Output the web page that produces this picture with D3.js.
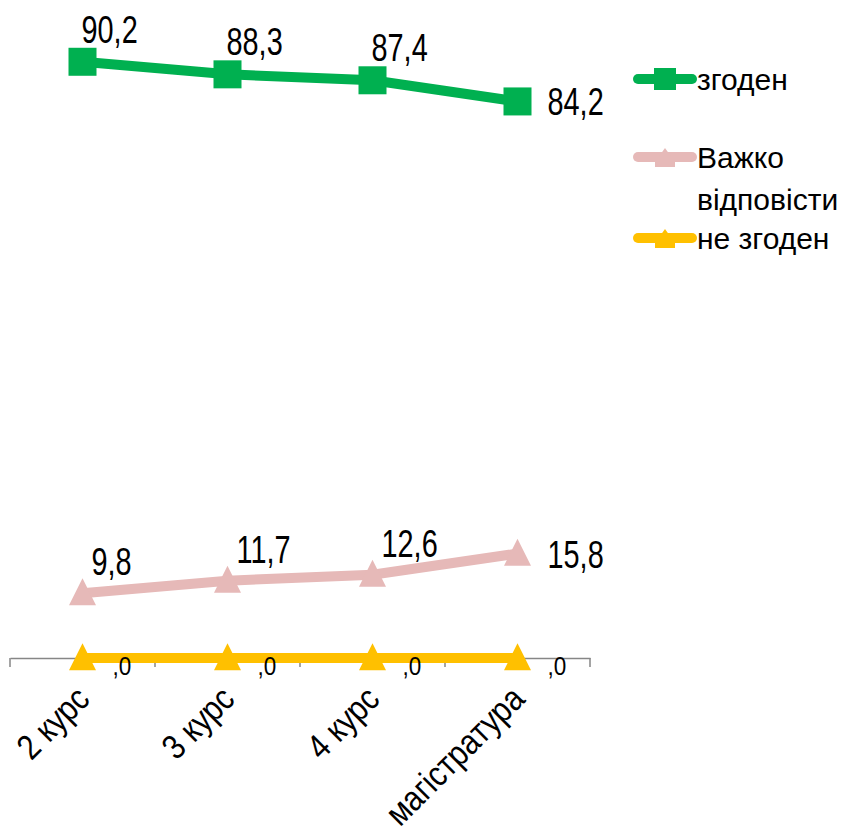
<!DOCTYPE html>
<html>
<head>
<meta charset="utf-8">
<script src="https://cdn.jsdelivr.net/npm/d3@7"></script>
<style>
  body { margin: 0; background: #fff; }
  text { font-family: "Liberation Sans", Arial, sans-serif; fill: #000; }
</style>
</head>
<body>
<svg id="chart" width="843" height="838"></svg>
<script>
// categories and series
const categories = ["2 курс", "3 курс", "4 курс", "магістратура"];
const agree = [90.2, 88.3, 87.4, 84.2];
const hardToSay = [9.8, 11.7, 12.6, 15.8];
const disagree = [0, 0, 0, 0];
const seriesNames = ["згоден", "Важко відповісти", "не згоден"];

var svg = d3.select("#chart");

var x = d3.scaleBand().domain(categories).range([10, 590]);
var y = d3.scaleLinear().domain([0, 100]).range([658, -3]);

// axis
var axis = svg.append("g")
  .attr("transform", "translate(0," + y(0) + ")")
  .call(d3.axisBottom(x).tickSize(0).tickFormat(""));
axis.select(".domain").attr("stroke", "#868686").attr("stroke-width", 1.5);
// tick marks at band boundaries
var bounds = categories.map(function (c) { return x(c); }).concat([x.range()[1]]);
axis.selectAll("line.tk").data(bounds).enter().append("line")
  .attr("class", "tk")
  .attr("x1", function (d) { return d; }).attr("x2", function (d) { return d; })
  .attr("y1", 0).attr("y2", 9)
  .attr("stroke", "#868686").attr("stroke-width", 1.5);

// category labels rotated (narrow face)
svg.append("g").selectAll("text").data(categories).enter().append("text")
  .attr("transform", function (d) {
    return "translate(" + (x(d) + x.bandwidth() / 2 + 9) + "," + (y(0) + 43) + ") rotate(-45) scale(0.86,1)";
  })
  .attr("text-anchor", "end")
  .attr("font-size", 35)
  .text(function (d) { return d; });

var cx = function (d, i) { return x(categories[i]) + x.bandwidth() / 2; };
var line = d3.line().x(function (d, i) { return cx(d, i); }).y(function (d) { return y(d); });
var fmt = function (v) { return v === 0 ? ",0" : d3.format(".1f")(v).replace(".", ","); };

var series = [
  { name: seriesNames[0], values: agree, color: "#00b050", marker: "square", dx: -1, dy: -19 },
  { name: seriesNames[1], values: hardToSay, color: "#e6b9b8", marker: "triangle", dx: 9, dy: -18 },
  { name: seriesNames[2], values: disagree, color: "#ffc000", marker: "triangle", dx: 30, dy: 17 }
];

function drawMarker(g, type, color, size) {
  if (type === "square") {
    g.append("rect").attr("x", -size / 2).attr("y", -size / 2)
      .attr("width", size).attr("height", size).attr("fill", color);
  } else {
    g.append("path")
      .attr("d", "M0," + (-size * 0.55) + "L" + (size / 2) + "," + (size * 0.45) + "L" + (-size / 2) + "," + (size * 0.45) + "Z")
      .attr("fill", color);
  }
}

series.slice().reverse().forEach(function (s) {
  var g = svg.append("g");
  g.append("path").datum(s.values)
    .attr("d", line).attr("fill", "none")
    .attr("stroke", s.color).attr("stroke-width", 10);
  s.values.forEach(function (v, i) {
    var m = g.append("g").attr("transform", "translate(" + cx(v, i) + "," + y(v) + ")");
    drawMarker(m, s.marker, s.color, s.marker === "square" ? 28 : 27);
  });
});

// data labels
series.forEach(function (s) {
  var n = s.values.length;
  svg.append("g").selectAll("text").data(s.values).enter().append("text")
    .attr("transform", function (d, i) {
      var px, py, sx;
      if (d === 0) { px = cx(d, i) + s.dx; py = y(d) + s.dy; sx = 0.9; }
      else if (i === n - 1) { px = cx(d, i) + 30; py = y(d) + 14; sx = 0.76; }
      else { px = cx(d, i) + s.dx; py = y(d) + s.dy; sx = 0.76; }
      return "translate(" + px + "," + py + ") scale(" + sx + ",1)";
    })
    .attr("font-size", function (d) { return d === 0 ? 25 : 38; })
    .text(fmt);
});

// legend
var legend = svg.append("g");
var legendRows = [
  { s: series[0], y: 79, lines: ["згоден"] },
  { s: series[1], y: 157, lines: ["Важко", "відповісти"] },
  { s: series[2], y: 238, lines: ["не згоден"] }
];
legendRows.forEach(function (r) {
  var g = legend.append("g").attr("transform", "translate(0," + r.y + ")");
  g.append("line").attr("x1", 638).attr("x2", 692).attr("y1", 0).attr("y2", 0)
    .attr("stroke", r.s.color).attr("stroke-width", 10).attr("stroke-linecap", "round");
  var m = g.append("g").attr("transform", "translate(665,0)");
  if (r.s.marker === "square") drawMarker(m, "square", r.s.color, 22);
  else m.append("path").attr("d", "M0,-9L10,5L10,10L-10,10L-10,5Z").attr("fill", r.s.color);
  r.lines.forEach(function (t, k) {
    g.append("text").attr("x", 697).attr("y", 11 + k * 42)
      .attr("font-size", 30).text(t);
  });
});
</script>
</body>
</html>
